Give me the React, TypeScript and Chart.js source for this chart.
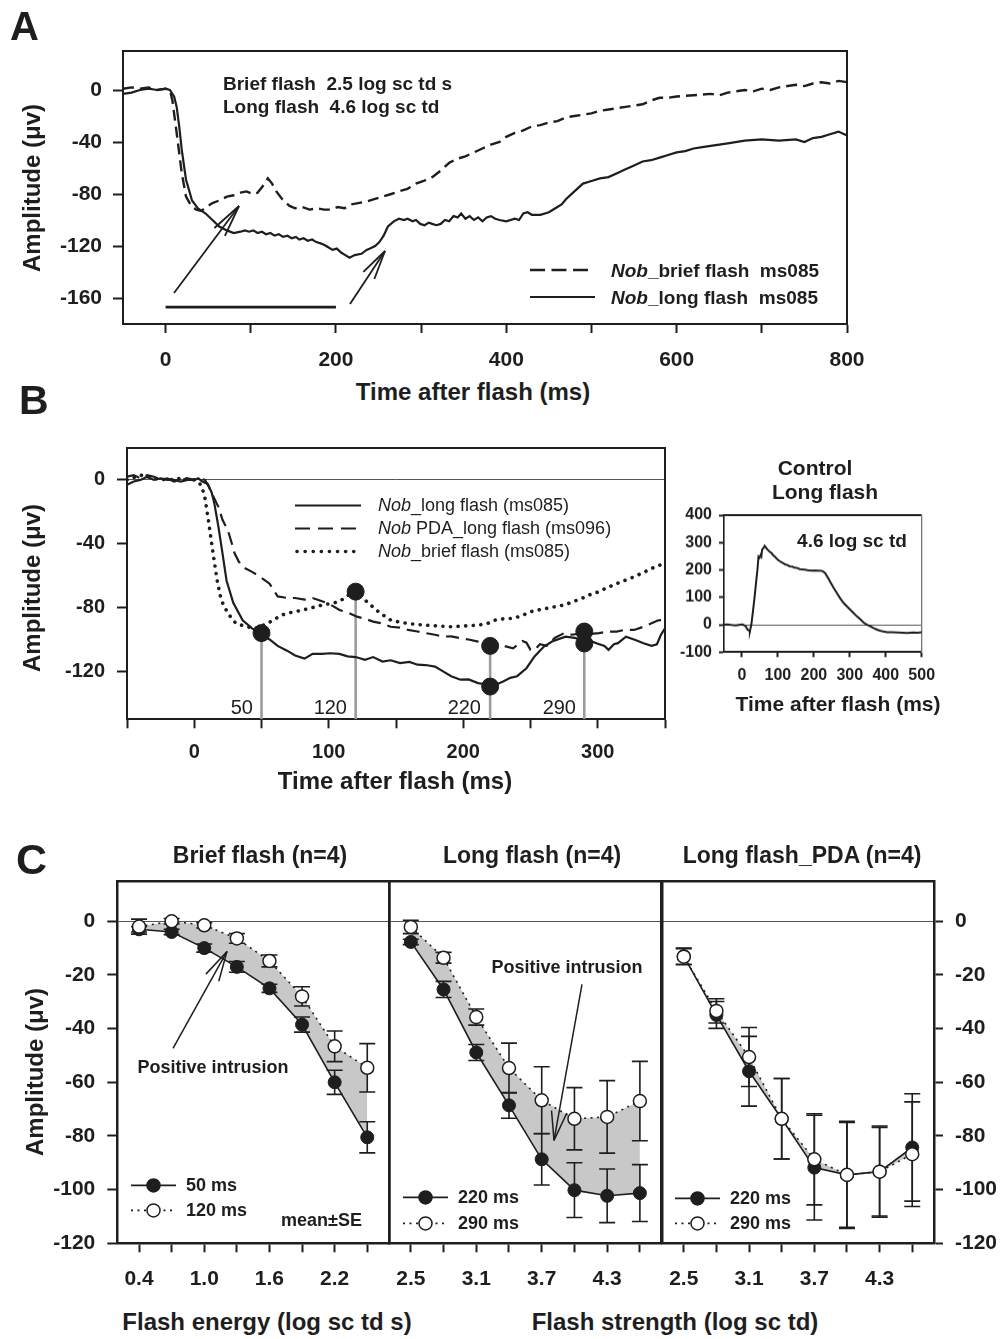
import React, { useEffect, useRef } from "react";
import { Chart, registerables } from "chart.js";

Chart.register(...registerables);

const FONT = "'Liberation Sans', Arial, Helvetica, sans-serif";
const INK = "#1e1e1e";
const STEM = "#9c9c9c";
const SHADE = "#c8c8c8";

/* ================= DATA ================= */
/* Panel A: (time ms, amplitude uV) */
const aBrief: [number, number][] = [
  [-50, 1], [-40, 2], [-30, 1], [-20, 2], [-10, 0], [0, 1], [5, 0], [8, -8], [13, -33], [19, -64], [24, -82], [30, -89],
  [36, -92], [42, -93], [48, -90], [55, -87], [63, -85], [72, -82], [80, -81], [88, -79], [95, -78], [102, -80], [108, -79],
  [114, -74], [120, -68], [125, -72], [130, -78], [137, -84], [145, -89], [152, -91], [160, -90], [169, -92], [178, -91],
  [186, -92], [194, -92], [202, -90], [210, -91], [218, -88], [226, -87], [235, -86], [245, -84], [255, -82], [265, -80],
  [274, -78], [284, -76], [294, -72], [303, -70], [313, -67], [323, -62], [333, -56], [342, -53], [352, -51], [362, -48],
  [372, -45], [382, -42], [392, -40], [400, -36], [410, -33], [420, -31], [430, -28], [440, -27], [450, -25], [460, -24],
  [470, -21], [480, -20], [490, -19], [500, -18], [510, -16], [520, -15], [530, -14], [540, -13], [550, -12], [560, -11],
  [570, -8], [580, -6], [590, -6], [600, -5], [620, -4], [640, -3], [650, -4], [660, -2], [680, 0], [690, -1], [700, 1],
  [710, 0], [720, 2], [740, 4], [750, 3], [760, 5], [770, 6], [780, 5], [790, 7], [800, 6],
];
const aLong: [number, number][] = [
  [-50, -3], [-40, -2], [-30, 0], [-20, 1], [-10, 0], [0, 1], [5, 0], [10, -5], [13, -13], [16, -28], [19, -46], [22, -60],
  [24, -69], [28, -78], [31, -85], [38, -91], [47, -95], [55, -100], [63, -105], [72, -108], [80, -110], [88, -109],
  [93, -108], [98, -109], [103, -108], [108, -110], [113, -109], [118, -111], [123, -110], [128, -112], [133, -111],
  [138, -113], [143, -112], [148, -114], [153, -113], [157, -115], [162, -114], [167, -116], [172, -115], [177, -117],
  [182, -118], [186, -119], [191, -121], [196, -123], [201, -122], [206, -125], [211, -127], [216, -129], [222, -127],
  [230, -126], [236, -123], [240, -122], [246, -120], [251, -117], [256, -112], [261, -105], [268, -101], [274, -99],
  [280, -100], [284, -99], [290, -101], [294, -100], [299, -103], [304, -104], [309, -102], [313, -103], [318, -104],
  [323, -103], [328, -100], [333, -101], [338, -97], [343, -98], [347, -95], [352, -99], [357, -97], [362, -100],
  [367, -98], [372, -101], [377, -98], [382, -97], [387, -99], [392, -100], [400, -101], [410, -99], [415, -100],
  [420, -95], [425, -94], [430, -96], [440, -96], [450, -94], [460, -90], [465, -88], [470, -84], [480, -78], [490, -72],
  [500, -70], [510, -68], [520, -67], [530, -64], [540, -61], [550, -58], [560, -55], [570, -54], [580, -52], [590, -50],
  [600, -48], [610, -47], [620, -45], [630, -44], [640, -43], [660, -41], [680, -39], [700, -38], [720, -39], [740, -38],
  [750, -40], [760, -37], [770, -36], [780, -34], [790, -32], [800, -35],
];
const aStimTime = [0, 200];
const aStimLevel = -167;
const aXTicks = [0, 100, 200, 300, 400, 500, 600, 700, 800];
const aXLabels = [0, 200, 400, 600, 800];
const aYTicks = [-160, -120, -80, -40, 0];

/* Panel B */
const bLong: [number, number][] = [
  [-50, -3], [-45, -1], [-40, 0], [-35, 2], [-30, 0], [-25, 1], [-20, 0], [-15, 0], [-10, -1], [-5, 0], [0, 0], [3, 1],
  [6, -1], [10, -2.5], [13, -8], [15, -15], [18, -29.5], [21, -46], [24, -63], [29, -77], [36, -88], [43, -93], [49, -96],
  [56, -100], [62, -104], [69, -107], [75, -110], [82, -112], [88, -109], [95, -109], [101, -108.6], [108, -109],
  [114, -110.6], [120, -111], [127, -112.7], [133, -111], [140, -113.8], [146, -113], [153, -114.8], [160, -114],
  [166, -115.8], [172, -116], [179, -117], [185, -120], [191, -123], [198, -125.2], [204, -125], [211, -127.3], [216, -128],
  [220, -129.4], [225, -128], [230, -126.2], [235, -124], [240, -123], [247, -118], [253, -110.6], [260, -104.4],
  [266, -101.3], [276, -98.2], [283, -99], [289, -100.3], [295, -101], [299, -102.3], [305, -104], [308, -106.5],
  [312, -103], [315, -102.3], [321, -98.2], [328, -100.3], [334, -102.3], [340, -104], [344, -103], [347, -97], [350, -93],
];
const bPda: [number, number][] = [
  [-50, 2], [-45, 3], [-40, 1], [-35, 3], [-30, 2], [-25, 0], [-20, 1], [-15, -1], [-10, 0], [-5, 1], [0, 0], [4, 1], [8, 0],
  [11, -4.6], [14, -10], [18, -17], [21, -25], [25, -31.6], [28, -40], [30, -46], [33, -51], [36, -54.5], [43, -57.6],
  [49, -60.7], [56, -65], [62, -73], [66, -73.5], [69, -74], [75, -74], [82, -75], [88, -74], [95, -76], [101, -78],
  [108, -81.5], [114, -83], [121, -85.7], [127, -87], [133, -88.8], [140, -90], [146, -92], [153, -92.5], [159, -94],
  [166, -95], [172, -96], [179, -97], [185, -98.2], [191, -98], [198, -99.2], [204, -100], [211, -101.3], [217, -103],
  [224, -104.4], [230, -104], [237, -105.5], [241, -103], [244, -101], [247, -102], [250, -106.5], [253, -106.5],
  [257, -103], [262, -104], [268, -99], [275, -96], [281, -97], [288, -96], [294, -96.5], [301, -96], [307, -95],
  [314, -95], [320, -94], [327, -94], [334, -92], [340, -89.8], [345, -88], [350, -87.8],
];
const bBrief: [number, number][] = [
  [-50, 0], [-40, 3], [-30, 1], [-20, 0], [-10, 1], [0, 0], [4, -2], [7.5, -8.8], [10.6, -25.6], [14, -46], [17, -62.8],
  [20, -75.3], [25, -83.6], [31, -90], [39, -92], [45, -93], [49, -92], [54, -90], [59, -87.8], [64, -85], [69, -83.6],
  [75, -82.5], [81, -81.5], [88, -80], [95, -78.4], [101, -77.5], [108, -76.3], [113, -73], [117, -71], [120, -70],
  [124, -72], [127, -75.3], [132, -79], [137, -82.6], [141, -85], [146, -87.8], [152, -89], [159, -90], [165, -90.5],
  [172, -91], [181, -91.5], [191, -92], [201, -91.5], [211, -91], [218, -90], [224, -87.8], [230, -87], [237, -86.8],
  [244, -85], [250, -82.6], [256, -81.5], [262, -80.5], [268, -79.5], [275, -78.4], [281, -76.5], [288, -74.3],
  [294, -72], [301, -70], [307, -67.5], [314, -65], [320, -63], [327, -60.7], [334, -58], [340, -55.5], [346, -53.5],
  [350, -52],
];
const bStemTimes = [50, 120, 220, 290];
const bStemTops = [-96, -70, -104, -95];
const bDotTimes = [50, 120, 220, 220, 290, 290];
const bDotAmps = [-96, -70, -104, -129.5, -95, -102.5];
const bStemLabels = ["50", "120", "220", "290"];
const bXTicks = [-50, 0, 50, 100, 150, 200, 250, 300, 350];
const bXLabels = [0, 100, 200, 300];
const bYTicks = [-120, -80, -40, 0];

/* Inset: control long flash */
const ctrlLong: [number, number][] = [
  [-50, 0], [-40, 1], [-30, -1], [-17, -2.4], [-5, 0], [2, 1], [10, -5], [16, -18], [20, -22], [22, -24], [26, 0],
  [30, 42.6], [35, 100], [39, 152], [43, 200], [46, 249], [49, 245], [52, 255], [54, 250], [56, 274], [60, 280],
  [63, 288], [66, 283], [69, 278], [72, 273], [78, 265], [82, 262], [86, 255], [92, 248], [100, 237], [105, 232],
  [110, 228], [114, 225], [120, 220], [126, 218], [133, 213], [140, 212], [147, 208], [154, 207], [161, 203], [168, 202],
  [175, 201], [182, 199], [189, 198], [196, 197], [203, 198], [210, 197], [217, 197], [224, 196], [231, 189], [238, 174],
  [245, 158], [254, 137], [264, 116], [273, 97], [283, 79], [292, 67], [301, 55], [310, 43], [320, 30], [329, 20],
  [338, 8.5], [347, 1], [357, -6], [366, -12], [376, -18], [390, -24], [404, -27], [418, -27], [432, -28], [446, -29],
  [460, -30], [475, -28], [488, -29], [502, -27],
];
const iXTicks = [0, 100, 200, 300, 400, 500];
const iYTicks = [-100, 0, 100, 200, 300, 400];

/* Panel C */
const cBriefX = [0.4, 0.7, 1.0, 1.3, 1.6, 1.9, 2.2, 2.5];
const brief50 = [-3, -4, -10, -17, -25, -38.5, -60, -80.5];
const brief50SE = [1, 1, 1.5, 2, 1.5, 2.8, 4.5, 5.8];
const brief120 = [-2, 0, -1.5, -6.4, -14.8, -28, -46.6, -54.6];
const brief120SE = [2.8, 1, 1, 1.8, 2.2, 3.6, 5.7, 9];

const cLongX = [2.5, 2.8, 3.1, 3.4, 3.7, 4.0, 4.3, 4.6];
const long220 = [-7.7, -25.4, -48.9, -68.6, -88.7, -100.2, -102.3, -101.3];
const long220SE = [1, 3, 3, 4.8, 9.6, 10.2, 10, 10.6];
const long290 = [-2.1, -13.6, -35.7, -54.7, -66.7, -73.6, -72.9, -67];
const long290SE = [2.5, 2, 3, 9.3, 12.5, 11.6, 13.5, 14.8];

const pda220 = [-13, -34.9, -55.9, -73.6, -91.8, -94.5, -93.3, -84.3];
const pda220SE = [3, 5, 13, 15, 19.5, 20, 17, 20];
const pda290 = [-13.2, -33.4, -50.6, -73.6, -88.7, -94.5, -93.3, -86.8];
const pda290SE = [3, 4.5, 11, 15, 17, 19.5, 16.5, 19.5];

const cBriefTicks = [0.4, 0.7, 1.0, 1.3, 1.6, 1.9, 2.2, 2.5];
const cBriefLabels = [0.4, 1.0, 1.6, 2.2];
const cLongTicks = [2.5, 2.8, 3.1, 3.4, 3.7, 4.0, 4.3, 4.6];
const cLongLabels = [2.5, 3.1, 3.7, 4.3];
const cYTicks = [-120, -100, -80, -60, -40, -20, 0];

/* ================= HELPERS ================= */
type Box = { x: number; y: number; w: number; h: number };
type Area = { l: number; t: number; r: number; b: number };

const pairs = (list: [number, number][]) => list.map(([x, y]) => ({ x, y }));
const zip = (xs: number[], ys: number[]) => xs.map((x, i) => ({ x, y: ys[i] }));
const same = (a: number, b: number) => Math.abs(a - b) < 1e-6;

function numAxis(p: {
  axis: "x" | "y";
  position: string;
  min: number;
  max: number;
  size: number;
  ticks: number[];
  labels: number[] | null;
  fontSize: number;
  tickLen: number;
  pad: number;
  borderWidth: number;
  zeroLine?: boolean;
  fmt?: (v: number) => string;
}) {
  const horiz = p.axis === "x";
  return {
    type: "linear",
    axis: p.axis,
    position: p.position,
    min: p.min,
    max: p.max,
    afterFit: (s: any) => {
      if (horiz) s.height = p.size;
      else s.width = p.size;
    },
    afterBuildTicks: (s: any) => {
      s.ticks = p.ticks.map((v) => ({ value: v }));
    },
    ticks: {
      display: p.labels !== null,
      autoSkip: false,
      maxRotation: 0,
      minRotation: 0,
      padding: p.pad,
      color: INK,
      font: { family: FONT, size: p.fontSize, weight: "bold" },
      callback: (v: number) =>
        p.labels && p.labels.some((l) => same(l, v)) ? (p.fmt ? p.fmt(v) : String(v)) : "",
    },
    grid: {
      display: true,
      drawOnChartArea: !!p.zeroLine,
      drawTicks: p.tickLen > 0,
      tickLength: p.tickLen,
      tickWidth: 2,
      tickColor: INK,
      lineWidth: 1,
      color: (c: any) => (p.zeroLine && c.tick && same(c.tick.value, 0) ? "#555" : "rgba(0,0,0,0)"),
    },
    border: { display: true, width: p.borderWidth, color: INK },
  };
}

function frameAxis(axis: "x" | "y", position: string, size: number, width: number, color = INK) {
  return {
    type: "linear",
    axis,
    position,
    afterFit: (s: any) => {
      if (axis === "x") s.height = size;
      else s.width = size;
    },
    ticks: { display: false },
    grid: { display: false, drawTicks: false },
    border: { display: true, width, color },
  };
}

function baseOptions(scales: any) {
  return {
    responsive: false,
    maintainAspectRatio: false,
    animation: false,
    devicePixelRatio: 1,
    events: [],
    layout: { padding: 0 },
    plugins: {
      legend: { display: false },
      tooltip: { enabled: false },
      title: { display: false },
      filler: { drawTime: "beforeDatasetsDraw", propagate: false },
    },
    scales,
  };
}

function seg(ctx: CanvasRenderingContext2D, x1: number, y1: number, x2: number, y2: number, w: number, dash: number[] = [], cap: CanvasLineCap = "butt", color = INK) {
  ctx.save();
  ctx.strokeStyle = color;
  ctx.lineWidth = w;
  ctx.setLineDash(dash);
  ctx.lineCap = cap;
  ctx.beginPath();
  ctx.moveTo(x1, y1);
  ctx.lineTo(x2, y2);
  ctx.stroke();
  ctx.restore();
}

function arrow(ctx: CanvasRenderingContext2D, x1: number, y1: number, x2: number, y2: number, w: number, head: number, half: number) {
  seg(ctx, x1, y1, x2, y2, w);
  const a = Math.atan2(y1 - y2, x1 - x2);
  seg(ctx, x2, y2, x2 + head * Math.cos(a + half), y2 + head * Math.sin(a + half), w);
  seg(ctx, x2, y2, x2 + head * Math.cos(a - half), y2 + head * Math.sin(a - half), w);
}

function dot(ctx: CanvasRenderingContext2D, x: number, y: number, r: number, open: boolean) {
  ctx.save();
  ctx.beginPath();
  ctx.arc(x, y, r, 0, Math.PI * 2);
  ctx.fillStyle = open ? "#fff" : INK;
  ctx.fill();
  ctx.lineWidth = 1.5;
  ctx.strokeStyle = INK;
  ctx.stroke();
  ctx.restore();
}

function deco(id: string, box: Box, draw: (ctx: CanvasRenderingContext2D) => void) {
  return {
    id,
    afterDraw(chart: any) {
      const ctx = chart.ctx as CanvasRenderingContext2D;
      ctx.save();
      ctx.translate(-box.x, -box.y);
      draw(ctx);
      ctx.restore();
    },
  };
}

const errorBars = {
  id: "errorBars",
  beforeDatasetsDraw(chart: any) {
    const ctx = chart.ctx as CanvasRenderingContext2D;
    const xs = chart.scales.x;
    const ys = chart.scales.y;
    ctx.save();
    ctx.strokeStyle = INK;
    ctx.lineWidth = 1.6;
    chart.data.datasets.forEach((ds: any) => {
      if (!ds.se) return;
      ds.data.forEach((p: any, i: number) => {
        const px = xs.getPixelForValue(p.x);
        const top = ys.getPixelForValue(p.y + ds.se[i]);
        const bot = ys.getPixelForValue(p.y - ds.se[i]);
        ctx.beginPath();
        ctx.moveTo(px, top);
        ctx.lineTo(px, bot);
        ctx.moveTo(px - 8, top);
        ctx.lineTo(px + 8, top);
        ctx.moveTo(px - 8, bot);
        ctx.lineTo(px + 8, bot);
        ctx.stroke();
      });
    });
    ctx.restore();
  },
};

function ChartCanvas({ box, config }: { box: Box; config: () => any }) {
  const ref = useRef<HTMLCanvasElement | null>(null);
  useEffect(() => {
    if (!ref.current) return;
    const chart = new Chart(ref.current, config());
    return () => chart.destroy();
  }, []);
  return (
    <canvas
      ref={ref}
      width={box.w}
      height={box.h}
      style={{ position: "absolute", left: box.x, top: box.y, width: box.w, height: box.h }}
    />
  );
}

function Txt(props: {
  x: number;
  y: number;
  size: number;
  bold?: boolean;
  align?: "left" | "center" | "right";
  rotate?: boolean;
  children: React.ReactNode;
}) {
  const { x, y, size, bold = true, align = "left", rotate = false, children } = props;
  const tx = align === "left" ? "0" : align === "center" ? "-50%" : "-100%";
  return (
    <div
      style={{
        position: "absolute",
        left: x,
        top: y,
        transform: `translate(${tx},-50%)${rotate ? " rotate(-90deg)" : ""}`,
        fontFamily: FONT,
        fontSize: size,
        fontWeight: bold ? 700 : 400,
        lineHeight: 1,
        whiteSpace: "pre",
        color: INK,
      }}
    >
      {children}
    </div>
  );
}

/* ================= PANEL A ================= */
const areaA: Area = { l: 123, t: 51, r: 847, b: 324 };
const boxA: Box = { x: 0, y: areaA.t - 32, w: 900, h: 376 - (areaA.t - 32) };

function configA() {
  return {
    type: "line",
    data: {
      datasets: [
        { data: pairs(aBrief), borderColor: INK, borderWidth: 2.4, borderDash: [11, 6], pointRadius: 0, tension: 0 },
        { data: pairs(aLong), borderColor: INK, borderWidth: 2.2, pointRadius: 0, tension: 0 },
        { data: aStimTime.map((t) => ({ x: t, y: aStimLevel })), borderColor: INK, borderWidth: 2.6, pointRadius: 0 },
      ],
    },
    options: baseOptions({
      x: numAxis({ axis: "x", position: "bottom", min: -50, max: 800, size: boxA.y + boxA.h - areaA.b, ticks: aXTicks, labels: aXLabels, fontSize: 21, tickLen: 9, pad: 15, borderWidth: 2 }),
      y: numAxis({ axis: "y", position: "left", min: -180, max: 30, size: areaA.l - boxA.x, ticks: aYTicks, labels: aYTicks, fontSize: 21, tickLen: 10, pad: 11, borderWidth: 2 }),
      xt: frameAxis("x", "top", areaA.t - boxA.y, 2),
      yr: frameAxis("y", "right", boxA.x + boxA.w - areaA.r, 2),
    }),
    plugins: [
      deco("decoA", boxA, (ctx) => {
        arrow(ctx, 174, 293, 239, 206, 1.8, 33, 0.2);
        arrow(ctx, 350, 304, 385, 251, 1.8, 30, 0.22);
        seg(ctx, 530, 270, 588, 270, 2.4, [15, 6.5]);
        seg(ctx, 530, 297, 595, 297, 2.2);
      }),
    ],
  };
}

/* ================= PANEL B ================= */
const areaB: Area = { l: 127, t: 447.5, r: 665, b: 719.3 };
const boxB: Box = { x: 0, y: areaB.t - 32, w: 690, h: 770 - (areaB.t - 32) };

function configB() {
  const stems: any[] = [];
  bStemTimes.forEach((t, i) => {
    stems.push({ x: t, y: -150 }, { x: t, y: bStemTops[i] }, { x: t, y: null });
  });
  return {
    type: "line",
    data: {
      datasets: [
        { data: zip(bDotTimes, bDotAmps), showLine: false, pointRadius: 8.5, pointBackgroundColor: INK, pointBorderColor: INK, order: 0 },
        { data: pairs(bLong), borderColor: INK, borderWidth: 2.2, pointRadius: 0, tension: 0, order: 1 },
        { data: pairs(bPda), borderColor: INK, borderWidth: 2.2, borderDash: [13, 7], pointRadius: 0, tension: 0, order: 2 },
        { data: pairs(bBrief), borderColor: INK, borderWidth: 3.6, borderDash: [0.1, 7.5], borderCapStyle: "round", pointRadius: 0, tension: 0, order: 3 },
        { data: stems, borderColor: STEM, borderWidth: 2.6, pointRadius: 0, spanGaps: false, order: 4 },
      ],
    },
    options: baseOptions({
      x: numAxis({ axis: "x", position: "bottom", min: -50, max: 350, size: boxB.y + boxB.h - areaB.b, ticks: bXTicks, labels: bXLabels, fontSize: 20, tickLen: 9, pad: 12, borderWidth: 2 }),
      y: numAxis({ axis: "y", position: "left", min: -150, max: 20, size: areaB.l - boxB.x, ticks: bYTicks, labels: bYTicks, fontSize: 20, tickLen: 10, pad: 12, borderWidth: 2, zeroLine: true }),
      xt: frameAxis("x", "top", areaB.t - boxB.y, 2),
      yr: frameAxis("y", "right", boxB.x + boxB.w - areaB.r, 2),
    }),
    plugins: [
      deco("decoB", boxB, (ctx) => {
        seg(ctx, 295, 505, 361, 505, 2.2);
        seg(ctx, 295, 528, 361, 528, 2.2, [15, 8]);
        seg(ctx, 297, 551, 361, 551, 3.6, [0.1, 8], "round");
      }),
    ],
  };
}

/* ================= INSET ================= */
const areaI: Area = { l: 724, t: 515.3, r: 921.7, b: 652.3 };
const boxI: Box = { x: 668, y: areaI.t - 22, w: 284, h: 693 - (areaI.t - 22) };

function configI() {
  return {
    type: "line",
    data: {
      datasets: [{ data: pairs(ctrlLong), borderColor: INK, borderWidth: 2, pointRadius: 0, tension: 0 }],
    },
    options: baseOptions({
      x: numAxis({ axis: "x", position: "bottom", min: -50, max: 500, size: boxI.y + boxI.h - areaI.b, ticks: iXTicks, labels: iXTicks, fontSize: 16, tickLen: 5, pad: 9, borderWidth: 2 }),
      y: numAxis({ axis: "y", position: "left", min: -100, max: 400, size: areaI.l - boxI.x, ticks: iYTicks, labels: iYTicks, fontSize: 16, tickLen: 5, pad: 7, borderWidth: 1.6, zeroLine: true }),
      xt: frameAxis("x", "top", areaI.t - boxI.y, 2),
      yr: frameAxis("y", "right", boxI.x + boxI.w - areaI.r, 1.3, "#777"),
    }),
  };
}

/* ================= PANEL C ================= */
const areaCt = 880.6;
const areaCb = 1243.3;
const cTop = areaCt - 32;
const cH = 1300 - cTop;
const boxC1: Box = { x: 0, y: cTop, w: 400, h: cH };
const areaC1: Area = { l: 117.3, t: areaCt, r: 389, b: areaCb };
const boxC2: Box = { x: 378, y: cTop, w: 296, h: cH };
const areaC2: Area = { l: 389, t: areaCt, r: 661.7, b: areaCb };
const boxC3: Box = { x: 651, y: cTop, w: 356, h: cH };
const areaC3: Area = { l: 662, t: areaCt, r: 934, b: areaCb };

function cDatasets(xs: number[], a: number[], aSE: number[], b: number[], bSE: number[]) {
  return [
    {
      data: zip(xs, a),
      se: aSE,
      borderColor: INK,
      borderWidth: 1.6,
      pointRadius: 6.5,
      pointBackgroundColor: INK,
      pointBorderColor: INK,
      pointBorderWidth: 1,
      tension: 0,
      fill: false,
      order: 1,
    },
    {
      data: zip(xs, b),
      se: bSE,
      borderColor: INK,
      borderWidth: 1.6,
      borderDash: [2, 4.5],
      backgroundColor: SHADE,
      fill: "-1",
      pointRadius: 6.5,
      pointBackgroundColor: "#fff",
      pointBorderColor: INK,
      pointBorderWidth: 1.5,
      tension: 0,
      order: 0,
    },
  ];
}

function legendC(ctx: CanvasRenderingContext2D, x1: number, x2: number, y1: number, y2: number) {
  const mx = (x1 + x2) / 2;
  seg(ctx, x1, y1, x2, y1, 1.8);
  dot(ctx, mx, y1, 6.5, false);
  seg(ctx, x1, y2, x2, y2, 1.6, [2, 4.5]);
  dot(ctx, mx, y2, 6.5, true);
}

function xAxisC(box: Box, area: Area, min: number, max: number, ticks: number[], labels: number[]) {
  return numAxis({ axis: "x", position: "bottom", min, max, size: box.y + box.h - area.b, ticks, labels, fontSize: 21, tickLen: 9, pad: 14, borderWidth: 2.5, fmt: (v) => v.toFixed(1) });
}

function configC1() {
  return {
    type: "line",
    data: { datasets: cDatasets(cBriefX, brief50, brief50SE, brief120, brief120SE) },
    options: baseOptions({
      x: xAxisC(boxC1, areaC1, 0.2, 2.7, cBriefTicks, cBriefLabels),
      y: numAxis({ axis: "y", position: "left", min: -120, max: 15, size: areaC1.l - boxC1.x, ticks: cYTicks, labels: cYTicks, fontSize: 21, tickLen: 10, pad: 12, borderWidth: 2.5, zeroLine: true }),
      xt: frameAxis("x", "top", areaC1.t - boxC1.y, 2.5),
      yr: frameAxis("y", "right", boxC1.x + boxC1.w - areaC1.r, 2.5),
    }),
    plugins: [
      errorBars,
      deco("decoC1", boxC1, (ctx) => {
        legendC(ctx, 131, 176, 1185, 1210);
        arrow(ctx, 173, 1048, 227, 951, 1.5, 31, 0.24);
      }),
    ],
  };
}

function configC2() {
  return {
    type: "line",
    data: { datasets: cDatasets(cLongX, long220, long220SE, long290, long290SE) },
    options: baseOptions({
      x: xAxisC(boxC2, areaC2, 2.3, 4.8, cLongTicks, cLongLabels),
      y: numAxis({ axis: "y", position: "left", min: -120, max: 15, size: areaC2.l - boxC2.x, ticks: cYTicks, labels: null, fontSize: 21, tickLen: 0, pad: 0, borderWidth: 2.5, zeroLine: true }),
      xt: frameAxis("x", "top", areaC2.t - boxC2.y, 2.5),
      yr: frameAxis("y", "right", boxC2.x + boxC2.w - areaC2.r, 2.5),
    }),
    plugins: [
      errorBars,
      deco("decoC2", boxC2, (ctx) => {
        legendC(ctx, 403, 448, 1197, 1223);
        arrow(ctx, 582, 984, 554, 1140, 1.5, 30, 0.26);
      }),
    ],
  };
}

function configC3() {
  return {
    type: "line",
    data: { datasets: cDatasets(cLongX, pda220, pda220SE, pda290, pda290SE) },
    options: baseOptions({
      x: xAxisC(boxC3, areaC3, 2.3, 4.8, cLongTicks, cLongLabels),
      y: numAxis({ axis: "y", position: "right", min: -120, max: 15, size: boxC3.x + boxC3.w - areaC3.r, ticks: cYTicks, labels: cYTicks, fontSize: 21, tickLen: 9, pad: 12, borderWidth: 2.5, zeroLine: true }),
      xt: frameAxis("x", "top", areaC3.t - boxC3.y, 2.5),
      yl: frameAxis("y", "left", areaC3.l - boxC3.x, 2.5),
    }),
    plugins: [
      errorBars,
      deco("decoC3", boxC3, (ctx) => {
        legendC(ctx, 675, 720, 1198, 1223);
      }),
    ],
  };
}

/* ================= APP ================= */
const Nob = () => <i>Nob</i>;

export default function App() {
  return (
    <div style={{ position: "absolute", left: 0, top: 0, width: 1007, height: 1339, background: "#fff", overflow: "hidden" }}>
      <ChartCanvas box={boxA} config={configA} />
      <ChartCanvas box={boxB} config={configB} />
      <ChartCanvas box={boxI} config={configI} />
      <ChartCanvas box={boxC1} config={configC1} />
      <ChartCanvas box={boxC2} config={configC2} />
      <ChartCanvas box={boxC3} config={configC3} />

      {/* Panel A text */}
      <Txt x={10} y={26} size={40}>A</Txt>
      <Txt x={32} y={188} size={24} align="center" rotate>Amplitude (μv)</Txt>
      <Txt x={473} y={392} size={24} align="center">Time after flash (ms)</Txt>
      <Txt x={223} y={83} size={19}>Brief flash  2.5 log sc td s</Txt>
      <Txt x={223} y={106} size={19}>Long flash  4.6 log sc td</Txt>
      <Txt x={611} y={270} size={19}><Nob />_brief flash  ms085</Txt>
      <Txt x={611} y={297} size={19}><Nob />_long flash  ms085</Txt>

      {/* Panel B text */}
      <Txt x={19} y={400} size={41}>B</Txt>
      <Txt x={32} y={588} size={24} align="center" rotate>Amplitude (μv)</Txt>
      <Txt x={395} y={781} size={24} align="center">Time after flash (ms)</Txt>
      <Txt x={378} y={505} size={18} bold={false}><Nob />_long flash (ms085)</Txt>
      <Txt x={378} y={528} size={18} bold={false}><Nob /> PDA_long flash (ms096)</Txt>
      <Txt x={378} y={551} size={18} bold={false}><Nob />_brief flash (ms085)</Txt>
      <Txt x={253} y={707} size={20} bold={false} align="right">{bStemLabels[0]}</Txt>
      <Txt x={347} y={707} size={20} bold={false} align="right">{bStemLabels[1]}</Txt>
      <Txt x={481} y={707} size={20} bold={false} align="right">{bStemLabels[2]}</Txt>
      <Txt x={576} y={707} size={20} bold={false} align="right">{bStemLabels[3]}</Txt>

      {/* Inset text */}
      <Txt x={815} y={467} size={21} align="center">Control</Txt>
      <Txt x={825} y={491} size={21} align="center">Long flash</Txt>
      <Txt x={852} y={540} size={19} align="center">4.6 log sc td</Txt>
      <Txt x={838} y={703} size={21} align="center">Time after flash (ms)</Txt>

      {/* Panel C text */}
      <Txt x={16} y={859} size={43}>C</Txt>
      <Txt x={260} y={855} size={23} align="center">Brief flash (n=4)</Txt>
      <Txt x={532} y={855} size={23} align="center">Long flash (n=4)</Txt>
      <Txt x={802} y={855} size={23} align="center">Long flash_PDA (n=4)</Txt>
      <Txt x={35} y={1072} size={24} align="center" rotate>Amplitude (μv)</Txt>
      <Txt x={267} y={1322} size={24} align="center">Flash energy (log sc td s)</Txt>
      <Txt x={675} y={1322} size={24} align="center">Flash strength (log sc td)</Txt>
      <Txt x={186} y={1185} size={18}>50 ms</Txt>
      <Txt x={186} y={1210} size={18}>120 ms</Txt>
      <Txt x={281} y={1220} size={18}>mean±SE</Txt>
      <Txt x={213} y={1067} size={18} align="center">Positive intrusion</Txt>
      <Txt x={458} y={1197} size={18}>220 ms</Txt>
      <Txt x={458} y={1223} size={18}>290 ms</Txt>
      <Txt x={567} y={967} size={18} align="center">Positive intrusion</Txt>
      <Txt x={730} y={1198} size={18}>220 ms</Txt>
      <Txt x={730} y={1223} size={18}>290 ms</Txt>
    </div>
  );
}
